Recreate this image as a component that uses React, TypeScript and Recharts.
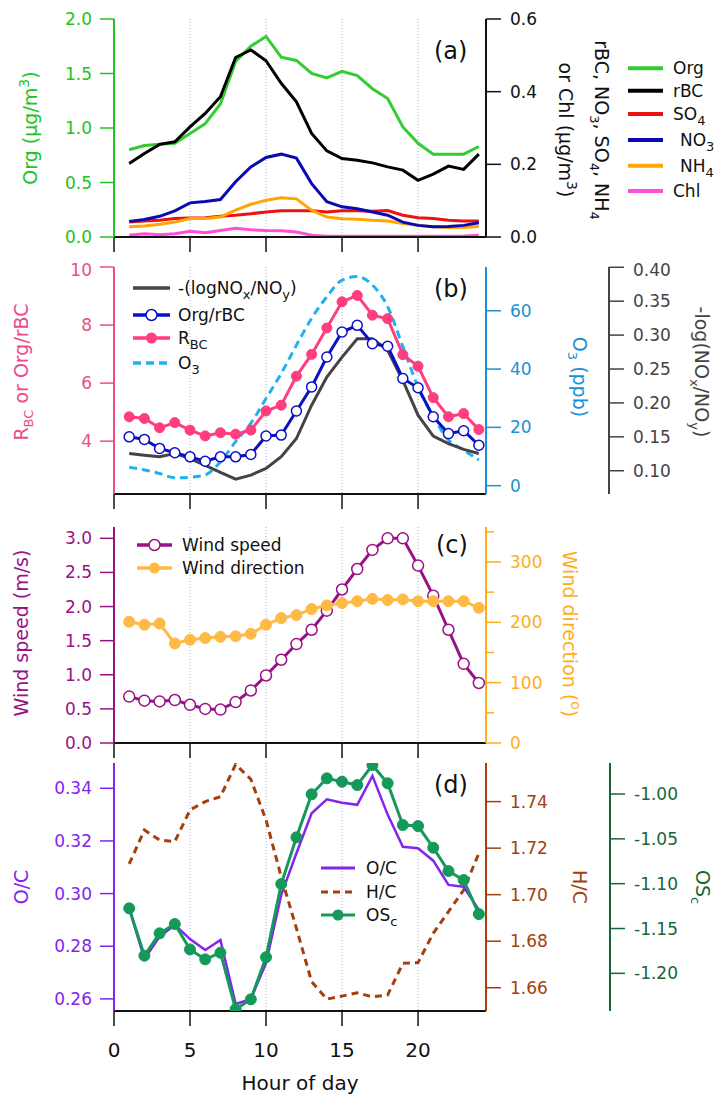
import React from "react";
import { LineChart, Line, XAxis, YAxis, CartesianGrid } from "recharts";

const hours = [1, 2, 3, 4, 5, 6, 7, 8, 9, 10, 11, 12, 13, 14, 15, 16, 17, 18, 19, 20, 21, 22, 23, 24];
const hourTicks = [0, 5, 10, 15, 20];

// (a) mass concentrations, ug/m3
const org = [0.8, 0.84, 0.85, 0.86, 0.95, 1.04, 1.22, 1.61, 1.75, 1.84, 1.65, 1.62, 1.5, 1.46, 1.52, 1.48, 1.36, 1.27, 1.01, 0.86, 0.76, 0.76, 0.76, 0.83];
const rbc = [0.202, 0.23, 0.255, 0.262, 0.303, 0.34, 0.386, 0.494, 0.515, 0.485, 0.423, 0.372, 0.285, 0.237, 0.216, 0.211, 0.204, 0.193, 0.184, 0.156, 0.173, 0.195, 0.186, 0.228];
const so4 = [0.041, 0.044, 0.046, 0.051, 0.052, 0.053, 0.057, 0.06, 0.064, 0.069, 0.072, 0.072, 0.072, 0.069, 0.072, 0.072, 0.071, 0.073, 0.06, 0.053, 0.051, 0.046, 0.044, 0.044];
const no3 = [0.043, 0.048, 0.057, 0.072, 0.094, 0.098, 0.103, 0.152, 0.193, 0.219, 0.228, 0.217, 0.147, 0.097, 0.083, 0.078, 0.069, 0.06, 0.041, 0.032, 0.028, 0.029, 0.032, 0.039];
const nh4 = [0.028, 0.03, 0.035, 0.041, 0.051, 0.051, 0.055, 0.074, 0.09, 0.101, 0.108, 0.105, 0.074, 0.055, 0.05, 0.049, 0.046, 0.044, 0.037, 0.032, 0.028, 0.026, 0.026, 0.029];
const chl = [0.005, 0.009, 0.006, 0.009, 0.016, 0.012, 0.018, 0.024, 0.02, 0.018, 0.017, 0.014, 0.005, 0.002, 0.002, 0.002, 0.002, 0.002, 0.002, 0.002, 0.002, 0.002, 0.003, 0.005];

// (b) ratios and ozone
const rbcRatio = [4.84, 4.78, 4.46, 4.64, 4.38, 4.18, 4.29, 4.24, 4.38, 5.04, 5.24, 6.24, 6.99, 7.9, 8.8, 9.02, 8.34, 8.22, 6.98, 6.58, 5.5, 4.84, 4.95, 4.4];
const orgRbc = [4.15, 4.06, 3.75, 3.6, 3.46, 3.31, 3.46, 3.46, 3.54, 4.18, 4.21, 5.04, 5.87, 6.9, 7.76, 7.99, 7.36, 7.27, 6.16, 5.84, 4.84, 4.26, 4.36, 3.86];
const noxRatio = [0.1255, 0.123, 0.1206, 0.1255, 0.118, 0.108, 0.0975, 0.0877, 0.0936, 0.1034, 0.1206, 0.1475, 0.1966, 0.2382, 0.2676, 0.2946, 0.2946, 0.2775, 0.2333, 0.1819, 0.151, 0.14, 0.1314, 0.1255];
const o3 = [6.3, 5.4, 4.2, 2.7, 2.9, 3.7, 8.2, 15.1, 21.4, 29.9, 38.5, 48.2, 57.4, 64.8, 70.5, 71.7, 68.8, 61.4, 47.7, 33.9, 23.7, 15.7, 12.2, 8.8];

// (c) wind
const windSpeed = [0.68, 0.62, 0.61, 0.63, 0.56, 0.5, 0.49, 0.6, 0.77, 0.99, 1.22, 1.45, 1.66, 1.94, 2.25, 2.55, 2.83, 3.0, 3.0, 2.6, 2.16, 1.66, 1.16, 0.88];
const windDir = [201, 196, 198, 165, 171, 174, 176, 177, 181, 196, 207, 212, 222, 228, 232, 235, 239, 237, 238, 235, 235, 235, 235, 224];

// (d) elemental ratios
const oc = [0.2944, 0.2751, 0.2837, 0.2881, 0.2827, 0.2786, 0.2824, 0.2581, 0.2599, 0.2736, 0.2995, 0.3153, 0.3305, 0.3358, 0.3345, 0.3337, 0.3447, 0.33, 0.3178, 0.3172, 0.3125, 0.3033, 0.3026, 0.2938];
const hc = [1.7132, 1.7278, 1.7235, 1.7228, 1.7364, 1.74, 1.7421, 1.756, 1.7496, 1.7321, 1.7077, 1.6855, 1.6626, 1.6551, 1.6564, 1.6578, 1.6561, 1.6569, 1.6705, 1.6708, 1.6834, 1.6927, 1.702, 1.7178];
const osc = [-1.1275, -1.1803, -1.1554, -1.145, -1.1733, -1.1844, -1.177, -1.24, -1.229, -1.182, -1.1004, -1.0483, -1.0003, -0.9825, -0.9863, -0.99, -0.9676, -0.988, -1.0346, -1.0357, -1.0599, -1.0859, -1.0959, -1.1339];

const FONT = '"DejaVu Sans", Verdana, sans-serif';
const W = 715;
const X_DOMAIN: [number, number] = [0, 24.47];
const GRID = "#a9a9dc";

const GREEN = "#22c422";
const PINK_AXIS = "#ec4c8c";
const PINK = "#ff3d7f";
const O3_AXIS = "#1a90d6";
const O3_LINE = "#1fb0f0";
const NAVY = "#0a10c8";
const GRAY = "#444444";
const WS = "#9a1185";
const WD = "#ffba45";
const WD_AXIS = "#ffad1a";
const OC = "#8424ec";
const HC = "#a3400e";
const OSC = "#14995a";
const OSC_AXIS = "#17663a";

const dataA = hours.map((hour, i) => ({ hour, org: org[i], rbc: rbc[i], so4: so4[i], no3: no3[i], nh4: nh4[i], chl: chl[i] }));
const dataB = hours.map((hour, i) => ({ hour, rbcRatio: rbcRatio[i], orgRbc: orgRbc[i], noxRatio: noxRatio[i], o3: o3[i] }));
const dataC = hours.map((hour, i) => ({ hour, ws: windSpeed[i], wd: windDir[i] }));
const dataD = hours.map((hour, i) => ({ hour, oc: oc[i], hc: hc[i], osc: osc[i] }));

const noLabel = () => <g />;

function xAxis(showLabels: boolean, height: number) {
  return (
    <XAxis
      dataKey="hour"
      type="number"
      domain={X_DOMAIN}
      ticks={hourTicks}
      allowDataOverflow
      height={height}
      axisLine={{ stroke: "#111", strokeWidth: 2 }}
      tickLine={{ stroke: "#111", strokeWidth: 1.5 }}
      tickSize={15}
      tickMargin={17}
      tick={showLabels ? { fill: "#111", fontSize: 20 } : noLabel}
    />
  );
}

function yAxis(id: string, side: "left" | "right", width: number, domain: [number, number], ticks: number[], color: string, digits: number) {
  return (
    <YAxis
      yAxisId={id}
      orientation={side}
      width={width}
      type="number"
      domain={domain}
      ticks={ticks}
      allowDataOverflow
      tickFormatter={(v: number) => v.toFixed(digits)}
      tickSize={side === "left" ? 14 : 15}
      tickMargin={side === "left" ? 8 : 9}
      axisLine={{ stroke: color, strokeWidth: 2 }}
      tickLine={{ stroke: color, strokeWidth: 1.5 }}
      tick={{ fill: color, fontSize: 17 }}
    />
  );
}

// wind direction axis: labels every 100, short minor ticks every 50
const WdTick = (props: any) => {
  const { x, y, payload } = props;
  const major = payload.value % 100 === 0;
  const x0 = x - 24;
  return (
    <g>
      <line x1={x0} y1={y} x2={x0 + (major ? 15 : 8)} y2={y} stroke={WD_AXIS} strokeWidth={1.5} />
      {major && (
        <text x={x} y={y} dy="0.36em" fill={WD_AXIS} fontSize={17}>
          {payload.value}
        </text>
      )}
    </g>
  );
};

const sub = (t: string) => (
  <tspan dy={5} fontSize={13}>
    {t}
  </tspan>
);

function Overlay() {
  const legA = [
    { label: "Org", color: "#33cc33", y: 68.3, x: 673 },
    { label: "rBC", color: "#000", y: 90.7, x: 673 },
    { label: "SO", s: "4", color: "#ee1111", y: 114, x: 673 },
    { label: "NO", s: "3", color: "#0a0ab4", y: 140, x: 680 },
    { label: "NH", s: "4", color: "#ffa600", y: 165.7, x: 680 },
    { label: "Chl", color: "#ff4fd8", y: 191, x: 673 },
  ];
  return (
    <svg width={W} height={1099} style={{ position: "absolute", left: 0, top: 0, pointerEvents: "none", fontFamily: FONT }}>
      {/* panel tags */}
      <g fontSize={24} fill="#111">
        <text x={434} y={59}>(a)</text>
        <text x={434} y={297}>(b)</text>
        <text x={436} y={553}>(c)</text>
        <text x={434} y={793}>(d)</text>
      </g>

      {/* axis titles */}
      <g fontSize={19} textAnchor="middle">
        <text transform="translate(37,128) rotate(-90)" fill={GREEN}>
          Org (µg/m<tspan dy={-8} fontSize={14}>3</tspan>
          <tspan dy={8}>)</tspan>
        </text>
        <text transform="translate(595,130) rotate(90)" fill="#111">
          rBC, NO{sub("3")}
          <tspan dy={-5}>, SO</tspan>
          {sub("4")}
          <tspan dy={-5}>, NH</tspan>
          {sub("4")}
        </text>
        <text transform="translate(559,130) rotate(90)" fill="#111">
          or Chl (µg/m<tspan dy={-8} fontSize={14}>3</tspan>
          <tspan dy={8}>)</tspan>
        </text>

        <text transform="translate(28,372) rotate(-90)" fill={PINK_AXIS}>
          R{sub("BC")}
          <tspan dy={-5}> or Org/rBC</tspan>
        </text>
        <text transform="translate(573,377) rotate(90)" fill={O3_AXIS}>
          O{sub("3")}
          <tspan dy={-5}> (ppb)</tspan>
        </text>
        <text transform="translate(695,372) rotate(90)" fill={GRAY}>
          -log(NO{sub("x")}
          <tspan dy={-5}>/NO</tspan>
          {sub("y")}
          <tspan dy={-5}>)</tspan>
        </text>

        <text transform="translate(28,633) rotate(-90)" fill={WS}>
          Wind speed (m/s)
        </text>
        <text transform="translate(563,634) rotate(90)" fill={WD_AXIS}>
          Wind direction (<tspan dy={-8} fontSize={14}>o</tspan>
          <tspan dy={8}>)</tspan>
        </text>

        <text transform="translate(28,887) rotate(-90)" fill={OC}>
          O/C
        </text>
        <text transform="translate(573,887) rotate(90)" fill={HC}>
          H/C
        </text>
        <text transform="translate(696,887) rotate(90)" fill={OSC_AXIS}>
          OS{sub("c")}
        </text>

        <text x={300} y={1090} fontSize={20} fill="#111">
          Hour of day
        </text>
      </g>

      {/* legends */}
      <g fontSize={17} fill="#111">
        {legA.map((d) => (
          <g key={d.label}>
            <line x1={628} x2={663} y1={d.y} y2={d.y} stroke={d.color} strokeWidth={4} />
            <text x={d.x} y={d.y + 6}>
              {d.label}
              {d.s ? sub(d.s) : null}
            </text>
          </g>
        ))}

        <line x1={133} x2={170} y1={288} y2={288} stroke={GRAY} strokeWidth={3.5} />
        <text x={178} y={294}>
          -(logNO{sub("x")}
          <tspan dy={-5}>/NO</tspan>
          {sub("y")}
          <tspan dy={-5}>)</tspan>
        </text>
        <line x1={133} x2={170} y1={315} y2={315} stroke={NAVY} strokeWidth={3.5} />
        <circle cx={151.5} cy={315} r={5.5} fill="#fff" stroke={NAVY} strokeWidth={1.5} />
        <text x={178} y={321}>Org/rBC</text>
        <line x1={133} x2={170} y1={338} y2={338} stroke={PINK} strokeWidth={3.5} />
        <circle cx={151.5} cy={338} r={5.5} fill={PINK} />
        <text x={178} y={344}>R{sub("BC")}</text>
        <line x1={133} x2={170} y1={363} y2={363} stroke={O3_LINE} strokeWidth={3.5} strokeDasharray="8 5" />
        <text x={178} y={369}>O{sub("3")}</text>

        <line x1={137} x2={172} y1={545} y2={545} stroke={WS} strokeWidth={3.5} />
        <circle cx={154.5} cy={545} r={5.5} fill="#fff" stroke={WS} strokeWidth={1.5} />
        <text x={182} y={551}>Wind speed</text>
        <line x1={137} x2={172} y1={568} y2={568} stroke={WD} strokeWidth={3.5} />
        <circle cx={154.5} cy={568} r={5.5} fill={WD} />
        <text x={182} y={574}>Wind direction</text>

        <line x1={321} x2={355} y1={868} y2={868} stroke={OC} strokeWidth={3} />
        <text x={366} y={874}>O/C</text>
        <line x1={321} x2={355} y1={892} y2={892} stroke={HC} strokeWidth={3} strokeDasharray="7 5" />
        <text x={366} y={898}>H/C</text>
        <line x1={321} x2={355} y1={915} y2={915} stroke={OSC} strokeWidth={3} />
        <circle cx={338} cy={915} r={5.5} fill={OSC} />
        <text x={366} y={921}>OS{sub("c")}</text>
      </g>
    </svg>
  );
}

export default function App() {
  return (
    <div style={{ position: "absolute", left: 0, top: 0, width: W, height: 1099, background: "#fff", fontFamily: FONT }}>
      {/* (a) */}
      <div style={{ position: "absolute", left: 0, top: 0 }}>
        <LineChart width={W} height={260} data={dataA} margin={{ top: 19, right: 0, bottom: 0, left: 0 }}>
          <CartesianGrid horizontal={false} yAxisId="l" stroke={GRID} strokeDasharray="1 2" />
          {xAxis(false, 23)}
          {yAxis("l", "left", 114, [0, 2], [0, 0.5, 1, 1.5, 2], GREEN, 1)}
          {yAxis("r1", "right", 229, [0, 0.6], [0, 0.2, 0.4, 0.6], "#111", 1)}
          <Line yAxisId="r1" dataKey="chl" stroke="#ff4fd8" strokeWidth={3} dot={false} isAnimationActive={false} />
          <Line yAxisId="r1" dataKey="so4" stroke="#ee1111" strokeWidth={3} dot={false} isAnimationActive={false} />
          <Line yAxisId="r1" dataKey="nh4" stroke="#ffa600" strokeWidth={3} dot={false} isAnimationActive={false} />
          <Line yAxisId="r1" dataKey="no3" stroke="#0a0ab4" strokeWidth={3} dot={false} isAnimationActive={false} />
          <Line yAxisId="l" dataKey="org" stroke="#33cc33" strokeWidth={3} dot={false} isAnimationActive={false} />
          <Line yAxisId="r1" dataKey="rbc" stroke="#000" strokeWidth={3} dot={false} isAnimationActive={false} />
        </LineChart>
      </div>

      {/* (b) */}
      <div style={{ position: "absolute", left: 0, top: 260 }}>
        <LineChart width={W} height={260} data={dataB} margin={{ top: 7, right: 0, bottom: 0, left: 0 }}>
          <CartesianGrid horizontal={false} yAxisId="l" stroke={GRID} strokeDasharray="1 2" />
          {xAxis(false, 26)}
          {yAxis("l", "left", 114, [2.18, 10], [4, 6, 8, 10], PINK_AXIS, 0)}
          {yAxis("r1", "right", 123, [-2.85, 75], [0, 20, 40, 60], O3_AXIS, 0)}
          {yAxis("r2", "right", 106, [0.0657, 0.4004], [0.1, 0.15, 0.2, 0.25, 0.3, 0.35, 0.4], GRAY, 2)}
          <Line yAxisId="r1" dataKey="o3" type="monotone" stroke={O3_LINE} strokeWidth={3} strokeDasharray="8 5" dot={false} isAnimationActive={false} />
          <Line yAxisId="r2" dataKey="noxRatio" stroke={GRAY} strokeWidth={3} dot={false} isAnimationActive={false} />
          <Line yAxisId="l" dataKey="orgRbc" stroke={NAVY} strokeWidth={3} dot={{ r: 5, fill: "#fff", stroke: NAVY, strokeWidth: 1.5 }} isAnimationActive={false} />
          <Line yAxisId="l" dataKey="rbcRatio" stroke={PINK} strokeWidth={3} dot={{ r: 5, fill: PINK, stroke: PINK, strokeWidth: 1 }} isAnimationActive={false} />
        </LineChart>
      </div>

      {/* (c) */}
      <div style={{ position: "absolute", left: 0, top: 520 }}>
        <LineChart width={W} height={240} data={dataC} margin={{ top: 7, right: 0, bottom: 0, left: 0 }}>
          <CartesianGrid horizontal={false} yAxisId="l" stroke={GRID} strokeDasharray="1 2" />
          {xAxis(false, 17)}
          {yAxis("l", "left", 114, [0, 3.166], [0, 0.5, 1, 1.5, 2, 2.5, 3], WS, 1)}
          <YAxis
            yAxisId="r1"
            orientation="right"
            width={229}
            type="number"
            domain={[0, 358]}
            ticks={[0, 50, 100, 150, 200, 250, 300, 350]}
            allowDataOverflow
            tickSize={15}
            tickMargin={9}
            axisLine={{ stroke: WD_AXIS, strokeWidth: 2 }}
            tickLine={false}
            tick={WdTick}
          />
          <Line yAxisId="l" dataKey="ws" stroke={WS} strokeWidth={3} dot={{ r: 5.5, fill: "#fff", stroke: WS, strokeWidth: 1.5 }} isAnimationActive={false} />
          <Line yAxisId="r1" dataKey="wd" stroke={WD} strokeWidth={3} dot={{ r: 5.5, fill: WD, stroke: WD, strokeWidth: 1 }} isAnimationActive={false} />
        </LineChart>
      </div>

      {/* (d) */}
      <div style={{ position: "absolute", left: 0, top: 760 }}>
        <LineChart width={W} height={339} data={dataD} margin={{ top: 3, right: 0, bottom: 0, left: 0 }}>
          <CartesianGrid horizontal={false} yAxisId="l" stroke={GRID} strokeDasharray="1 2" />
          {xAxis(true, 88)}
          {yAxis("l", "left", 114, [0.2554, 0.3496], [0.26, 0.28, 0.3, 0.32, 0.34], OC, 2)}
          {yAxis("r1", "right", 124, [1.65, 1.7566], [1.66, 1.68, 1.7, 1.72, 1.74], HC, 2)}
          {yAxis("r2", "right", 105, [-1.242, -0.9654], [-1.2, -1.15, -1.1, -1.05, -1.0], OSC_AXIS, 2)}
          <Line yAxisId="r1" dataKey="hc" stroke={HC} strokeWidth={3} strokeDasharray="7 5" dot={false} isAnimationActive={false} />
          <Line yAxisId="l" dataKey="oc" stroke={OC} strokeWidth={2.5} dot={false} isAnimationActive={false} />
          <Line yAxisId="r2" dataKey="osc" stroke={OSC} strokeWidth={3} dot={{ r: 5.5, fill: OSC, stroke: OSC, strokeWidth: 1 }} isAnimationActive={false} />
        </LineChart>
      </div>

      <Overlay />
    </div>
  );
}
